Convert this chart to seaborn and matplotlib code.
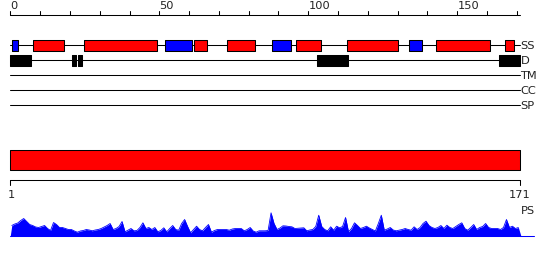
import numpy as np
import pandas as pd
import matplotlib
matplotlib.use("Agg")
import matplotlib.pyplot as plt
import seaborn as sns

# ---------------- data ----------------
SEQ_LEN = 171
top_ticks = list(range(0, 171, 10))
top_labels = ["0", "50", "100", "150"]
track_names = ["SS", "D", "TM", "CC", "SP"]

helix = [(7.7, 17.9), (24.8, 49.1), (61.7, 65.9), (72.8, 82.0), (96.0, 104.2),
         (113.1, 130.0), (143.0, 161.1), (166.1, 169.1)]
strand = [(0.7, 2.7), (52.0, 60.9), (87.8, 94.1), (133.8, 138.2)]
disorder = [(0.0, 6.9), (20.7, 22.0), (22.7, 24.0), (102.9, 113.2), (164.0, 171.0)]
domain = [(0.0, 171.0)]
domain_labels = ["1", "171"]

ps_scores = [
    10, 11.5, 12.5, 15, 17, 14, 11, 10, 8.5, 8,
    9, 10, 7, 5, 13, 11, 8, 8, 7, 6,
    6, 4.5, 3.3, 4.5, 5, 6, 5.5, 4.7, 5.5, 6,
    7, 8.5, 10, 12, 6, 7, 9, 14, 3.7, 5.3,
    7, 4.7, 5, 8, 12.7, 7, 8, 6, 8, 3.7,
    5, 7.7, 3.7, 7, 10, 6, 5.3, 12, 16, 9,
    2.7, 6, 9.3, 6, 4.7, 8, 11, 3.3, 5, 6,
    6, 6, 6, 5.3, 6.5, 7, 7, 7, 4.7, 6,
    8, 4.5, 3.3, 4.7, 4.7, 4.7, 5, 22.7, 12, 6,
    7.5, 9.7, 9.5, 9, 8.7, 7, 7.2, 7.5, 7.7, 4.7,
    5.5, 6, 9, 20.3, 9, 6, 4.7, 8.7, 5.3, 9.3,
    7.7, 9, 18, 3.7, 7, 12.7, 10, 7, 8, 9.3,
    7.5, 6, 4.5, 12, 20.3, 5.3, 6.5, 8, 5.5, 4.7,
    5.3, 6, 7, 6, 5.3, 8.7, 6, 8, 12, 14.3,
    10, 8, 7, 8, 10, 7, 10.3, 8, 7, 9,
    11, 12.7, 7, 5.3, 8, 11, 6, 8, 9, 12,
    8, 7, 7, 7, 6, 8, 16, 8, 9.3, 7, 8,
]
residues = list(range(1, SEQ_LEN + 1))

# ---------------- style ----------------
sns.set_theme(style="white")
plt.rcParams["font.family"] = ["DejaVu Sans"]

RED = "#ff0000"
BLUE = "#0000ff"
LW = 0.75
FS = 8.2

fig = plt.figure(figsize=(5.5, 2.6), dpi=100)
ax = fig.add_axes([0, 0, 1, 1])
PX_PER_UNIT = 2.98
X0_PX = 10.3
ax.set_xlim(-X0_PX / PX_PER_UNIT, (550 - X0_PX) / PX_PER_UNIT)
ax.set_ylim(260, 0)
ax.axis("off")

# ---- top ruler ----
ruler_y = 14.7
ax.plot([0, SEQ_LEN], [ruler_y, ruler_y], color="black", lw=LW)
for t in top_ticks:
    ax.plot([t, t], [ruler_y, ruler_y - 4], color="black", lw=LW)
for lab in top_labels:
    ax.text(int(lab), 10.8, lab, ha="left", va="bottom", fontsize=FS, color="#222222")

# ---- feature tracks ----
track_y = {"SS": 45.3, "D": 60.3, "TM": 75.3, "CC": 90.0, "SP": 105.3}
for name in track_names:
    y = track_y[name]
    ax.plot([0, SEQ_LEN], [y, y], color="black", lw=LW, zorder=1)
    ax.text(SEQ_LEN + 0.2, y + 0.6, name, ha="left", va="center", fontsize=FS, color="#222222")

def boxes(ranges, y, h, color):
    ax.broken_barh([(s, e - s) for s, e in ranges], (y - h / 2, h),
                   facecolors=color, edgecolors="black", linewidth=LW, zorder=2)

boxes(helix, track_y["SS"], 10.5, RED)
boxes(strand, track_y["SS"], 10.5, BLUE)
boxes(disorder, track_y["D"], 10.5, "black")

# ---- domain bar ----
ax.broken_barh([(s, e - s) for s, e in domain], (150.3, 20.0),
               facecolors=RED, edgecolors="black", linewidth=LW, zorder=2)

# ---- lower ruler ----
low_y = 180.3
ax.plot([0, SEQ_LEN], [low_y, low_y], color="black", lw=LW)
for x in [0, SEQ_LEN]:
    ax.plot([x, x], [low_y, low_y + 4.5], color="black", lw=LW)
ax.text(0.2, 195.5, domain_labels[0], ha="center", va="center", fontsize=FS, color="#222222")
ax.text(SEQ_LEN, 195.5, domain_labels[1], ha="center", va="center", fontsize=FS, color="#222222")
ax.text(SEQ_LEN + 0.3, 211, "PS", ha="left", va="center", fontsize=FS, color="#222222")

# ---- PS profile ----
base_y = 235.5
df = pd.DataFrame({"pos": np.array(residues) - 0.5, "score": ps_scores})
df["ypix"] = base_y - df["score"]
xs = np.concatenate([[0.0], df["pos"].values, [SEQ_LEN + 0.3]])
ys = np.concatenate([[base_y], df["ypix"].values, [base_y]])
ax.fill_between(xs, ys, base_y, color=BLUE, linewidth=0, zorder=2)
sns.lineplot(data=df, x="pos", y="ypix", ax=ax, color=BLUE, lw=0.6,
             estimator=None, sort=False, legend=False, zorder=3)
ax.plot([0, (534 - X0_PX) / PX_PER_UNIT], [base_y, base_y], color=BLUE, lw=LW, zorder=3)

ax.set_xlim(-X0_PX / PX_PER_UNIT, (550 - X0_PX) / PX_PER_UNIT)
ax.set_ylim(260, 0)
ax.axis("off")

fig.savefig("out.png", dpi=100, facecolor="white")
